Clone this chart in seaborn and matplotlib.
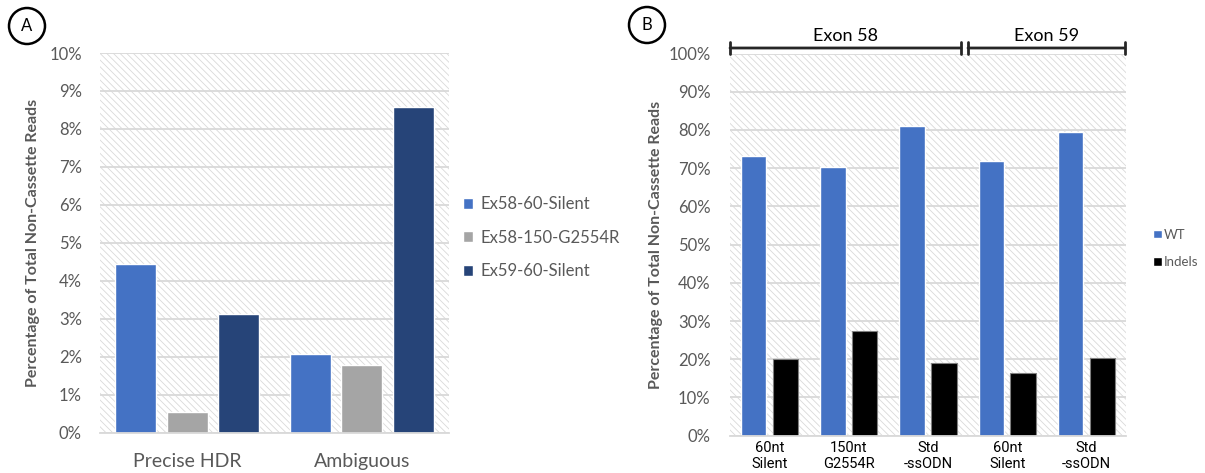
import numpy as np
import pandas as pd
import matplotlib
matplotlib.use("Agg")
import matplotlib.pyplot as plt
from matplotlib.patches import Rectangle, Circle
from matplotlib.transforms import blended_transform_factory
import seaborn as sns

# ---- data -------------------------------------------------------------
categories_a = ["Precise HDR", "Ambiguous"]
series_a = ["Ex58-60-Silent", "Ex58-150-G2554R", "Ex59-60-Silent"]
ex58_60_silent = [4.43, 2.08]
ex58_150_g2554r = [0.53, 1.77]
ex59_60_silent = [3.11, 8.58]
yticks_a = list(range(0, 11))

donor_ids_b = ["e58_60nt", "e58_150nt", "e58_std", "e59_60nt", "e59_std"]
tick_labels_b = ["60nt\nSilent", "150nt\nG2554R", "Std\n-ssODN", "60nt\nSilent", "Std\n-ssODN"]
series_b = ["WT", "Indels"]
wt = [73.3, 70.2, 81.0, 71.8, 79.5]
indels = [20.1, 27.5, 19.1, 16.5, 20.3]
yticks_b = list(range(0, 101, 10))
exon_groups = ["Exon 58", "Exon 59"]

colors_a = ["#4472C4", "#A5A5A5", "#264478"]
colors_b = ["#4472C4", "#000000"]

# ---- style ------------------------------------------------------------
sns.set_style("white")
plt.rcParams["font.family"] = ["Lato", "DejaVu Sans"]
plt.rcParams["hatch.linewidth"] = 0.6
grey_txt = "#595959"
grid_col = "#d9d9d9"

fig = plt.figure(figsize=(12.05, 4.73), dpi=100)
W, H = 1205, 473
ax_a = fig.add_axes([100 / W, 1 - 432.5 / H, 349 / W, 379.5 / H])
ax_b = fig.add_axes([730 / W, 1 - 435.6 / H, 396 / W, 382 / H])


def hatched_background(ax):
    ax.add_patch(Rectangle((0, 0), 1, 1, transform=ax.transAxes,
                           facecolor="white", edgecolor="#d9d9d9",
                           hatch="\\\\\\\\\\", linewidth=0, zorder=0.1))
    ax.set_axisbelow(True)
    ax.yaxis.grid(True, color=grid_col, linewidth=1.3, zorder=0.5)
    ax.xaxis.grid(False)
    for side in ("left", "right", "top"):
        ax.spines[side].set_visible(False)
    ax.spines["bottom"].set_color(grid_col)
    ax.spines["bottom"].set_linewidth(1.3)
    ax.tick_params(length=0)


# ---- panel A ----------------------------------------------------------
df_a = pd.DataFrame({
    "category": np.repeat(categories_a, len(series_a)),
    "series": series_a * len(categories_a),
    "value": [v for trio in zip(ex58_60_silent, ex58_150_g2554r, ex59_60_silent) for v in trio],
})
sns.barplot(data=df_a, x="category", y="value", hue="series", order=categories_a,
            hue_order=series_a, palette=colors_a, saturation=1, width=0.885,
            gap=0.21, ax=ax_a, errorbar=None, zorder=2)
hatched_background(ax_a)
ax_a.set_ylim(0, 10)
ax_a.set_xlim(-0.5, 1.5)
ax_a.set_yticks(yticks_a)
ax_a.set_yticklabels([f"{t}%" for t in yticks_a], fontsize=12, color=grey_txt)
ax_a.tick_params(axis="y", pad=13)
ax_a.tick_params(axis="x", pad=15, labelsize=14, labelcolor=grey_txt)
ax_a.set_xlabel("")
ax_a.set_ylabel("Percentage of Total Non-Cassette Reads", fontsize=11.5,
                fontweight="bold", color=grey_txt)
ax_a.yaxis.set_label_coords(-60 / 349, 0.5)
sns.move_legend(ax_a, "center left", bbox_to_anchor=(463 / W, 1 - 237.5 / H),
                bbox_transform=fig.transFigure, frameon=False, title=None,
                fontsize=12, labelcolor=grey_txt, borderpad=0, borderaxespad=0,
                handlelength=0.62, handleheight=0.62, handletextpad=0.4,
                labelspacing=1.05)

# ---- panel B ----------------------------------------------------------
df_b = pd.DataFrame({
    "donor": np.repeat(donor_ids_b, len(series_b)),
    "series": series_b * len(donor_ids_b),
    "value": [v for pair in zip(wt, indels) for v in pair],
})
sns.barplot(data=df_b, x="donor", y="value", hue="series", order=donor_ids_b,
            hue_order=series_b, palette=colors_b, saturation=1, width=0.8,
            gap=0.2, ax=ax_b, errorbar=None, zorder=2)
for bar in ax_b.patches:
    if bar.get_facecolor()[:3] == (0.0, 0.0, 0.0):
        bar.set_edgecolor("#7f7f7f")
        bar.set_linewidth(0.8)
hatched_background(ax_b)
ax_b.set_ylim(0, 100)
ax_b.set_xlim(-0.5, 4.5)
ax_b.set_yticks(yticks_b)
ax_b.set_yticklabels([f"{t}%" for t in yticks_b], fontsize=12, color=grey_txt)
ax_b.tick_params(axis="y", pad=14)
ax_b.set_xticks(range(len(donor_ids_b)))
ax_b.set_xticklabels(tick_labels_b, fontsize=10.5, color="black",
                     family=["Roboto", "DejaVu Sans"], linespacing=1.15)
ax_b.tick_params(axis="x", pad=4)
ax_b.set_xlabel("")
ax_b.set_ylabel("Percentage of Total Non-Cassette Reads", fontsize=11.5,
                fontweight="bold", color=grey_txt)
ax_b.yaxis.set_label_coords(-67 / 396, 0.5)
sns.move_legend(ax_b, "center left", bbox_to_anchor=(1153 / W, 1 - 248.5 / H),
                bbox_transform=fig.transFigure, frameon=False, title=None,
                fontsize=9.5, labelcolor=grey_txt, borderpad=0, borderaxespad=0,
                handlelength=0.65, handleheight=0.65, handletextpad=0.2,
                labelspacing=1.2)

# exon brackets above panel B
trans = blended_transform_factory(ax_b.transData, ax_b.transAxes)
bracket_y = (435.6 - 48) / 382
spans = [(-0.5, 2.417), (2.505, 4.487)]
for name, (x0, x1) in zip(exon_groups, spans):
    ax_b.annotate("", xy=(x0, bracket_y), xytext=(x1, bracket_y),
                  xycoords=trans, textcoords=trans, annotation_clip=False,
                  arrowprops=dict(arrowstyle="|-|, widthA=0.45, widthB=0.45",
                                  lw=2, color="#262626", shrinkA=0, shrinkB=0))
    ax_b.text((x0 + x1) / 2, bracket_y + 4 / 382, name, transform=trans,
              ha="center", va="bottom", fontsize=13, color="black")

# panel letters in circles
for letter, cx, cy in [("A", 27, 26), ("B", 647, 25)]:
    fig.add_artist(Circle((cx / 100, (H - cy) / 100), 0.18,
                          transform=fig.dpi_scale_trans, fill=False,
                          edgecolor="black", linewidth=1.8))
    fig.text(cx / W, 1 - cy / H, letter, ha="center", va="center",
             fontsize=12, color="black")

fig.savefig("out.png", dpi=100)
